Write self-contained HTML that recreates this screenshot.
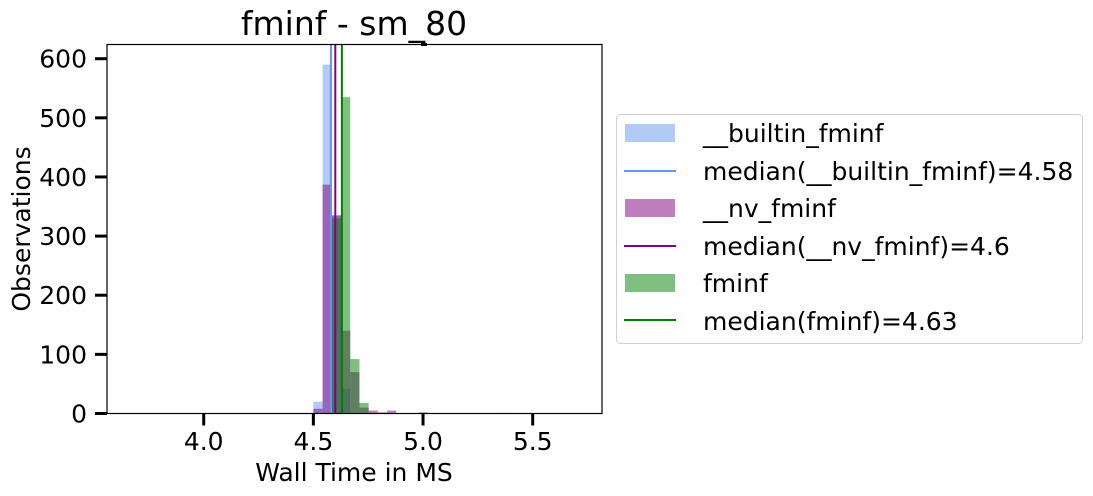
<!DOCTYPE html>
<html><head><meta charset="utf-8"><style>
body{margin:0;background:#fff;}
svg{display:block;font-family:"DejaVu Sans","Liberation Sans",sans-serif;}
</style></head><body>
<svg id="chart" width="1093" height="496" xmlns="http://www.w3.org/2000/svg">
<g id="bars"></g>
<g id="medians"></g>
<rect x="107" y="44.5" width="495" height="369" fill="none" stroke="#000" stroke-width="1.2"/>
<rect x="421" y="43" width="6" height="3" fill="#000"/>
<g id="xaxis"></g>
<g id="yaxis"></g>
<text x="354" y="35" font-size="33" text-anchor="middle">fminf - sm_80</text>
<text x="354" y="481" font-size="25" text-anchor="middle">Wall Time in MS</text>
<text transform="translate(30,229) rotate(-90)" font-size="25" text-anchor="middle">Observations</text>
<g>
<rect x="616.5" y="114.5" width="466" height="229" rx="4" fill="#fff" stroke="#d0d0d0"/>
<rect x="625" y="124" width="50" height="18" fill="#6495ed" fill-opacity="0.5"/>
<text x="703" y="142" font-size="25">__builtin_fminf</text>
<line x1="624" y1="171" x2="676" y2="171" stroke="#6495ed" stroke-width="2"/>
<text x="703" y="180" font-size="25">median(__builtin_fminf)=4.58</text>
<rect x="625" y="199" width="50" height="18" fill="#800080" fill-opacity="0.5"/>
<text x="703" y="217" font-size="25">__nv_fminf</text>
<line x1="624" y1="246" x2="676" y2="246" stroke="#800080" stroke-width="2"/>
<text x="703" y="255" font-size="25">median(__nv_fminf)=4.6</text>
<rect x="625" y="274" width="50" height="18" fill="#008000" fill-opacity="0.5"/>
<text x="703" y="292" font-size="25">fminf</text>
<line x1="624" y1="320" x2="676" y2="320" stroke="#008000" stroke-width="2"/>
<text x="703" y="330" font-size="25">median(fminf)=4.63</text>
</g>
</svg>
<script>
const binStart = 4.50;
const binWidth = 0.042;
const seriesNames = ["builtin", "nv", "fminf"];
const seriesColors = ["#6495ed", "#800080", "#008000"];
const builtinCounts = [20, 590, 335, 42, 0, 0, 0, 0, 0];
const nvCounts = [8, 387, 335, 140, 70, 10, 5, 2, 5];
const fminfCounts = [0, 1, 330, 535, 92, 18, 0, 0, 0];
const extraBins = [[2, 4.98, 2], [1, 5.34, 1]]; // [seriesIndex, start, count]
const medians = [4.58, 4.6, 4.63];
const xTicks = [4.0, 4.5, 5.0, 5.5];
const xTickLabels = ["4.0", "4.5", "5.0", "5.5"];
const yTicks = [0, 100, 200, 300, 400, 500, 600];

const NS = "http://www.w3.org/2000/svg";
const X0 = 107, X1 = 602, Y0 = 413.5, Y1 = 44.5;
const xMin = 3.559, xMax = 5.816, yMax = 624;
const sx = v => X0 + (v - xMin) / (xMax - xMin) * (X1 - X0);
const sy = v => Y0 - v / yMax * (Y0 - Y1);
function mk(tag, attrs, parent) { const e = document.createElementNS(NS, tag); for (const k in attrs) e.setAttribute(k, attrs[k]); parent.appendChild(e); return e; }

const bars = document.getElementById("bars");
const all = [builtinCounts, nvCounts, fminfCounts];
all.forEach((arr, si) => {
  arr.forEach((c, i) => {
    if (!c) return;
    const a = binStart + i * binWidth;
    const r = mk("rect", {x: sx(a), y: sy(c), width: sx(a + binWidth) - sx(a), height: sy(0) - sy(c), fill: seriesColors[si], "fill-opacity": 0.5}, bars);
    
    
  });
});
extraBins.forEach((b, i) => {
  const r = mk("rect", {x: sx(b[1]), y: sy(b[2]), width: sx(b[1] + binWidth) - sx(b[1]), height: sy(0) - sy(b[2]), fill: seriesColors[b[0]], "fill-opacity": 0.5}, bars);
  
  
});
const med = document.getElementById("medians");
medians.forEach((m, i) => {
  const l = mk("line", {x1: sx(m), x2: sx(m), y1: Y1, y2: Y0, stroke: seriesColors[i], "stroke-width": 2}, med);
  
  
});
const xa = document.getElementById("xaxis");
xTicks.forEach((t, i) => {
  const l = mk("line", {x1: sx(t), x2: sx(t), y1: Y0, y2: Y0 + 12, stroke: "#000", "stroke-width": 3}, xa);
  
  
  const tx = mk("text", {x: sx(t), y: 450, "font-size": 25, "text-anchor": "middle"}, xa);
  tx.textContent = xTickLabels[i];
  
  
});
const ya = document.getElementById("yaxis");
yTicks.forEach(t => {
  const l = mk("line", {x1: X0 - 12, x2: X0, y1: sy(t), y2: sy(t), stroke: "#000", "stroke-width": 3}, ya);
  
  
  const tx = mk("text", {x: 87, y: sy(t) + 9, "font-size": 25, "text-anchor": "end"}, ya);
  tx.textContent = String(t);
  
  
});
</script>
</body></html>
